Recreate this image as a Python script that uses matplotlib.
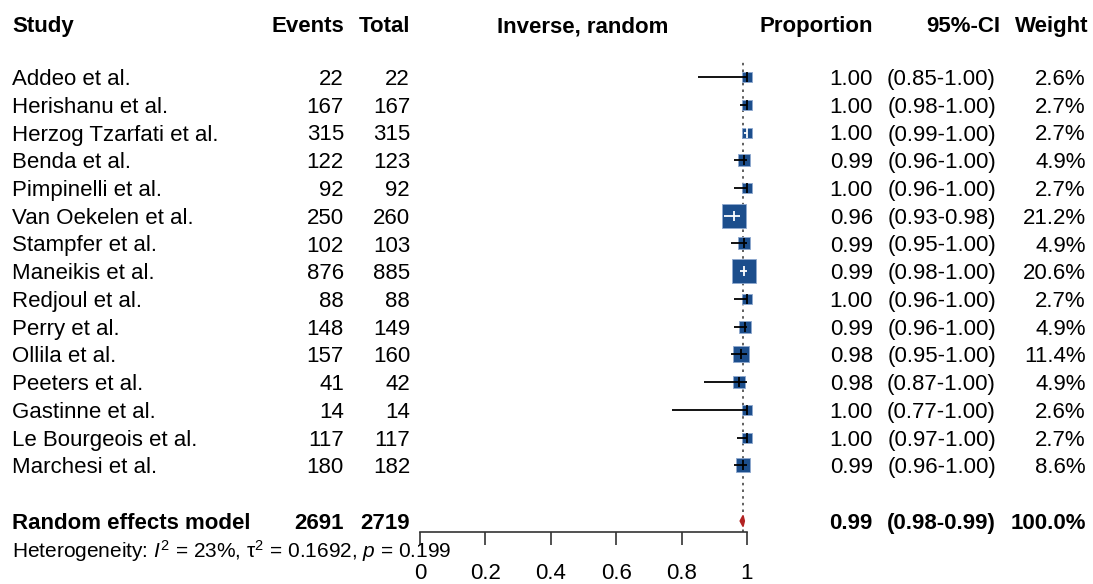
import numpy as np
import matplotlib
matplotlib.use("Agg")
import matplotlib.pyplot as plt
import matplotlib.transforms as mtransforms

plt.rcParams['font.family'] = ['Liberation Sans', 'DejaVu Sans']
plt.rcParams['mathtext.fontset'] = 'custom'
plt.rcParams['mathtext.rm'] = 'Liberation Sans'
plt.rcParams['mathtext.it'] = 'Liberation Sans:italic'

# Data
studies = ['Addeo et al.', 'Herishanu et al.', 'Herzog Tzarfati et al.', 'Benda et al.',
           'Pimpinelli et al.', 'Van Oekelen et al.', 'Stampfer et al.', 'Maneikis et al.',
           'Redjoul et al.', 'Perry et al.', 'Ollila et al.', 'Peeters et al.',
           'Gastinne et al.', 'Le Bourgeois et al.', 'Marchesi et al.']
events = [22, 167, 315, 122, 92, 250, 102, 876, 88, 148, 157, 41, 14, 117, 180]
totals = [22, 167, 315, 123, 92, 260, 103, 885, 88, 149, 160, 42, 14, 117, 182]
ci_low = [0.85, 0.98, 0.99, 0.96, 0.96, 0.93, 0.95, 0.98, 0.96, 0.96, 0.95, 0.87, 0.77, 0.97, 0.96]
ci_high = [1.00, 1.00, 1.00, 1.00, 1.00, 0.98, 1.00, 1.00, 1.00, 1.00, 1.00, 1.00, 1.00, 1.00, 1.00]
weights = [2.6, 2.7, 2.7, 4.9, 2.7, 21.2, 4.9, 20.6, 2.7, 4.9, 11.4, 4.9, 2.6, 2.7, 8.6]

pooled_events, pooled_total = 2691, 2719
pooled_est, pooled_low, pooled_high = 0.988, 0.979, 0.992
heterogeneity = r"Heterogeneity: $\mathit{I}^{2}$ = 23%, $\mathrm{\tau}^{2}$ = 0.1692, $\mathit{p}$ = 0.199"

xticks = [0, 0.2, 0.4, 0.6, 0.8, 1]

W, H = 1093, 584
fig = plt.figure(figsize=(W / 100, H / 100), dpi=100)

row0_px, step_px = 77, 27.75
top_px, axis_px = 60, 532
left_px, right_px = 420, 747
ax = fig.add_axes([left_px / W, 1 - axis_px / H, (right_px - left_px) / W, (axis_px - top_px) / H])
ax.set_xlim(0, 1)
ax.set_ylim((axis_px - row0_px) / step_px, (top_px - row0_px) / step_px)
for s in ['top', 'left', 'right']:
    ax.spines[s].set_visible(False)
ax.spines['bottom'].set_color('#333333')
ax.spines['bottom'].set_linewidth(1.2)
ax.set_yticks([])
ax.set_xticks(xticks)
ax.set_xticklabels([f"{t:g}" for t in xticks])
ax.tick_params(axis='x', length=9.5, width=1.2, color='#333333', pad=12.5, labelsize=16)

est = np.array(events) / np.array(totals)
rows = np.arange(len(studies))
pooled_row = len(studies) + 1

ax.axvline(pooled_est, color='#444444', linestyle=(0, (1.5, 2.5)), linewidth=1.2, zorder=1)

blue = '#1C4E8C'
px2pt = 0.72
for i in rows:
    side = 8 + 0.75 * weights[i]
    ax.scatter(est[i], i, marker='s', s=(side * px2pt) ** 2, color=blue,
               edgecolor='#8FA9CF', linewidth=0.6, zorder=3, clip_on=False)
    half = side / 2 / (right_px - left_px)
    inside = (est[i] - ci_low[i] <= half) and (ci_high[i] - est[i] <= half)
    col = 'white' if inside else 'black'
    ax.plot([ci_low[i], ci_high[i]], [i, i], color=col, linewidth=1.3, zorder=4,
            solid_capstyle='butt', clip_on=False)
    ax.plot(est[i], i, marker='|', markersize=6.5, markeredgewidth=1.3, color=col,
            zorder=4, clip_on=False)

dh = 0.2
ax.fill([pooled_low, pooled_est, pooled_high, pooled_est],
        [pooled_row, pooled_row - dh, pooled_row, pooled_row + dh],
        color='#B22222', zorder=4, clip_on=False)

# text columns: x in figure pixels, y in row units
tr = mtransforms.blended_transform_factory(fig.transFigure, ax.transData)

def put(xpx, y, s, ha='left', bold=False, size=16):
    ax.text(xpx / W, y, s, transform=tr, ha=ha, va='center_baseline', fontsize=size,
            fontweight='bold' if bold else 'normal', clip_on=False)

head_y = (24 - row0_px) / step_px
put(12, head_y, 'Study', bold=True)
put(344, head_y, 'Events', ha='right', bold=True)
put(410, head_y, 'Total', ha='right', bold=True)
put(583, head_y, 'Inverse, random', ha='center', bold=True)
put(873, head_y, 'Proportion', ha='right', bold=True)
put(1000, head_y, '95%-CI', ha='right', bold=True)
put(1088, head_y, 'Weight', ha='right', bold=True)

for i in rows:
    put(12, i, studies[i])
    put(344, i, str(events[i]), ha='right')
    put(410, i, str(totals[i]), ha='right')
    put(873, i, f"{est[i]:.2f}", ha='right')
    put(996, i, f"({ci_low[i]:.2f}-{ci_high[i]:.2f})", ha='right')
    put(1086, i, f"{weights[i]:.1f}%", ha='right')

put(12, pooled_row, 'Random effects model', bold=True)
put(344, pooled_row, str(pooled_events), ha='right', bold=True)
put(410, pooled_row, str(pooled_total), ha='right', bold=True)
put(873, pooled_row, f"{pooled_est:.2f}", ha='right', bold=True)
put(996, pooled_row, f"({pooled_low:.2f}-{pooled_high:.2f})", ha='right', bold=True)
put(1086, pooled_row, '100.0%', ha='right', bold=True)

put(12, (548 - row0_px) / step_px, heterogeneity, size=15)

fig.savefig('out.png', dpi=100)
